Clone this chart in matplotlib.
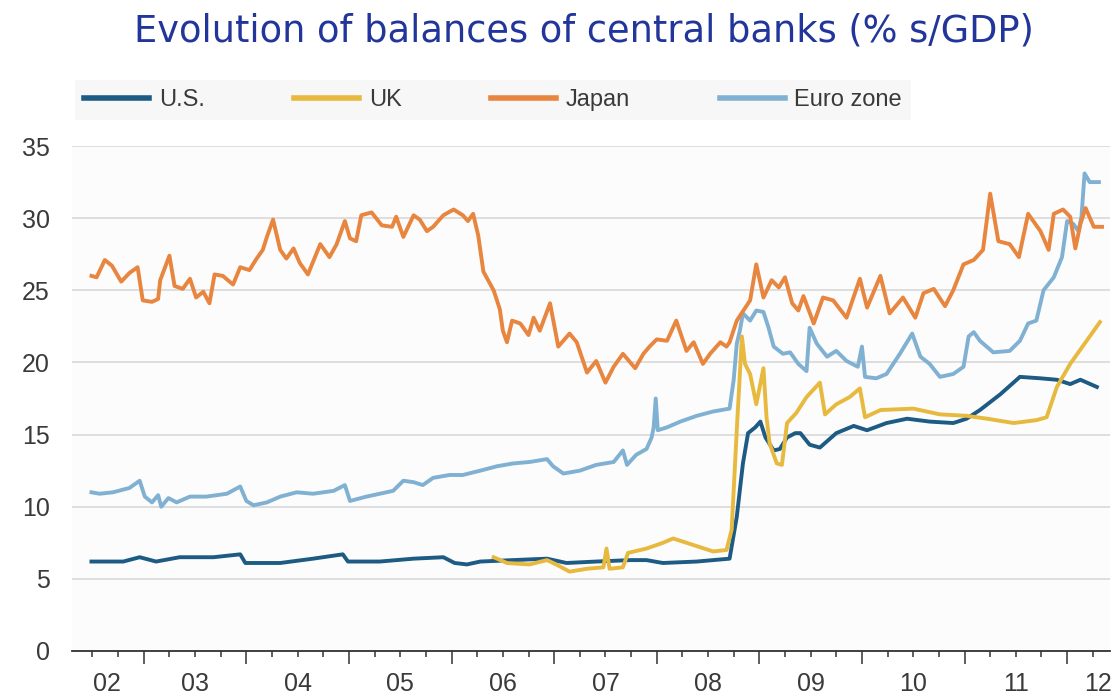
import numpy as np
import matplotlib
matplotlib.use('Agg')
from matplotlib import pyplot as plt

# balance sheets of central banks, % of GDP, by decimal year
us_x = [2002.49, 2002.80, 2002.96, 2003.12, 2003.35, 2003.68, 2003.94, 2003.99,
        2004.33, 2004.65, 2004.94, 2004.99, 2005.30, 2005.63, 2005.92, 2006.03,
        2006.15, 2006.28, 2006.60, 2006.93, 2007.12, 2007.41, 2007.74, 2007.90,
        2008.06, 2008.39, 2008.71, 2008.78, 2008.84, 2008.89, 2008.96, 2009.01,
        2009.06, 2009.14, 2009.20, 2009.27, 2009.35, 2009.40, 2009.49, 2009.59,
        2009.75, 2009.92, 2010.05, 2010.24, 2010.44, 2010.66, 2010.89, 2011.02,
        2011.15, 2011.35, 2011.54, 2011.74, 2011.90, 2012.03, 2012.13, 2012.29]
us_y = [6.2, 6.2, 6.5, 6.2, 6.5, 6.5, 6.7, 6.1,
        6.1, 6.4, 6.7, 6.2, 6.2, 6.4, 6.5, 6.1,
        6.0, 6.2, 6.3, 6.4, 6.1, 6.2, 6.3, 6.3,
        6.1, 6.2, 6.4, 9.3, 13.0, 15.1, 15.5, 15.9,
        14.8, 13.9, 14.0, 14.8, 15.1, 15.1, 14.3, 14.1,
        15.1, 15.6, 15.3, 15.8, 16.1, 15.9, 15.8, 16.1,
        16.7, 17.8, 19.0, 18.9, 18.8, 18.5, 18.8, 18.3]

uk_x = [2006.41, 2006.54, 2006.76, 2006.93, 2007.02, 2007.15, 2007.32, 2007.48,
        2007.51, 2007.54, 2007.67, 2007.72, 2007.90, 2008.06, 2008.16, 2008.29,
        2008.42, 2008.55, 2008.68, 2008.73, 2008.78, 2008.83, 2008.86, 2008.91,
        2008.97, 2009.04, 2009.07, 2009.10, 2009.17, 2009.22, 2009.27, 2009.36,
        2009.46, 2009.59, 2009.64, 2009.75, 2009.88, 2009.98, 2010.03, 2010.18,
        2010.50, 2010.76, 2011.02, 2011.22, 2011.48, 2011.70, 2011.80, 2011.90,
        2012.03, 2012.22, 2012.32]
uk_y = [6.5, 6.1, 6.0, 6.3, 6.0, 5.5, 5.7, 5.8,
        7.1, 5.7, 5.8, 6.8, 7.1, 7.5, 7.8, 7.5,
        7.2, 6.9, 7.0, 8.4, 15.3, 21.8, 19.9, 19.2,
        17.1, 19.6, 16.2, 14.4, 13.0, 12.9, 15.8, 16.5,
        17.6, 18.6, 16.4, 17.1, 17.6, 18.2, 16.2, 16.7,
        16.8, 16.4, 16.3, 16.1, 15.8, 16.0, 16.2, 18.3,
        19.9, 21.8, 22.8]

japan_x = [2002.49, 2002.54, 2002.62, 2002.69, 2002.78, 2002.86, 2002.94, 2002.99,
           2003.08, 2003.14, 2003.16, 2003.25, 2003.30, 2003.38, 2003.45, 2003.51,
           2003.58, 2003.64, 2003.69, 2003.77, 2003.87, 2003.94, 2004.03, 2004.10,
           2004.16, 2004.20, 2004.26, 2004.33, 2004.39, 2004.46, 2004.52, 2004.60,
           2004.72, 2004.81, 2004.88, 2004.96, 2005.01, 2005.07, 2005.12, 2005.22,
           2005.32, 2005.42, 2005.46, 2005.53, 2005.63, 2005.69, 2005.76, 2005.82,
           2005.92, 2006.02, 2006.11, 2006.16, 2006.21, 2006.26, 2006.31, 2006.41,
           2006.47, 2006.50, 2006.54, 2006.59, 2006.67, 2006.75, 2006.80, 2006.86,
           2006.96, 2007.04, 2007.15, 2007.22, 2007.32, 2007.41, 2007.50, 2007.58,
           2007.67, 2007.79, 2007.87, 2007.93, 2008.00, 2008.10, 2008.19, 2008.29,
           2008.36, 2008.45, 2008.52, 2008.62, 2008.68, 2008.71, 2008.78, 2008.91,
           2008.97, 2009.04, 2009.12, 2009.19, 2009.25, 2009.32, 2009.38, 2009.43,
           2009.53, 2009.62, 2009.72, 2009.85, 2009.98, 2010.05, 2010.18, 2010.27,
           2010.40, 2010.52, 2010.60, 2010.70, 2010.81, 2010.89, 2010.99, 2011.09,
           2011.18, 2011.25, 2011.33, 2011.44, 2011.53, 2011.62, 2011.74, 2011.82,
           2011.87, 2011.96, 2012.03, 2012.08, 2012.13, 2012.18, 2012.26, 2012.34]
japan_y = [26.0, 25.9, 27.1, 26.7, 25.6, 26.2, 26.6, 24.3,
           24.2, 24.4, 25.7, 27.4, 25.3, 25.1, 25.8, 24.5,
           24.9, 24.1, 26.1, 26.0, 25.4, 26.6, 26.4, 27.2,
           27.8, 28.7, 29.9, 27.8, 27.2, 27.9, 26.9, 26.1,
           28.2, 27.3, 28.2, 29.8, 28.6, 28.4, 30.2, 30.4,
           29.5, 29.4, 30.1, 28.7, 30.2, 29.9, 29.1, 29.4,
           30.2, 30.6, 30.2, 29.8, 30.3, 28.8, 26.3, 25.0,
           23.7, 22.2, 21.4, 22.9, 22.7, 21.9, 23.1, 22.2,
           24.1, 21.1, 22.0, 21.4, 19.3, 20.1, 18.6, 19.7,
           20.6, 19.6, 20.6, 21.1, 21.6, 21.5, 22.9, 20.8,
           21.4, 19.9, 20.6, 21.4, 21.1, 21.4, 22.9, 24.3,
           26.8, 24.5, 25.7, 25.2, 25.9, 24.1, 23.6, 24.6,
           22.7, 24.5, 24.3, 23.1, 25.8, 23.8, 26.0, 23.4,
           24.5, 23.1, 24.8, 25.1, 23.9, 25.0, 26.8, 27.1,
           27.8, 31.7, 28.4, 28.2, 27.3, 30.3, 29.1, 27.8,
           30.3, 30.6, 30.1, 27.9, 29.6, 30.7, 29.4, 29.4]

euro_x = [2002.49, 2002.57, 2002.70, 2002.86, 2002.96, 2003.01, 2003.08, 2003.14,
          2003.17, 2003.24, 2003.32, 2003.45, 2003.61, 2003.81, 2003.94, 2004.00,
          2004.07, 2004.20, 2004.33, 2004.49, 2004.65, 2004.85, 2004.96, 2005.01,
          2005.17, 2005.30, 2005.43, 2005.53, 2005.63, 2005.72, 2005.82, 2005.98,
          2006.11, 2006.28, 2006.44, 2006.60, 2006.76, 2006.93, 2006.99, 2007.09,
          2007.25, 2007.41, 2007.58, 2007.67, 2007.71, 2007.80, 2007.90, 2007.95,
          2007.97, 2007.99, 2008.01, 2008.10, 2008.23, 2008.39, 2008.55, 2008.71,
          2008.75, 2008.78, 2008.81, 2008.84, 2008.91, 2008.97, 2009.04, 2009.09,
          2009.14, 2009.23, 2009.30, 2009.38, 2009.46, 2009.49, 2009.56, 2009.66,
          2009.75, 2009.85, 2009.96, 2010.00, 2010.03, 2010.14, 2010.24, 2010.37,
          2010.49, 2010.57, 2010.66, 2010.76, 2010.89, 2010.99, 2011.04, 2011.09,
          2011.15, 2011.28, 2011.44, 2011.54, 2011.62, 2011.70, 2011.77, 2011.87,
          2011.95, 2012.00, 2012.06, 2012.11, 2012.14, 2012.17, 2012.22, 2012.31]
euro_y = [11.0, 10.9, 11.0, 11.3, 11.8, 10.7, 10.3, 10.8,
          10.0, 10.6, 10.3, 10.7, 10.7, 10.9, 11.4, 10.4,
          10.1, 10.3, 10.7, 11.0, 10.9, 11.1, 11.5, 10.4,
          10.7, 10.9, 11.1, 11.8, 11.7, 11.5, 12.0, 12.2,
          12.2, 12.5, 12.8, 13.0, 13.1, 13.3, 12.8, 12.3,
          12.5, 12.9, 13.1, 13.9, 12.9, 13.6, 14.0, 14.8,
          15.5, 17.5, 15.3, 15.5, 15.9, 16.3, 16.6, 16.8,
          18.8, 21.3, 22.2, 23.4, 22.9, 23.6, 23.5, 22.4,
          21.1, 20.6, 20.7, 19.9, 19.4, 22.4, 21.3, 20.4,
          20.8, 20.1, 19.7, 21.1, 19.0, 18.9, 19.2, 20.6,
          22.0, 20.4, 19.9, 19.0, 19.2, 19.7, 21.8, 22.1,
          21.5, 20.7, 20.8, 21.5, 22.7, 22.9, 25.0, 25.9,
          27.3, 29.8, 29.6, 29.1, 30.1, 33.1, 32.5, 32.5]

series = [
    ('U.S.', us_x, us_y, '#1d5b84'),
    ('UK', uk_x, uk_y, '#e8b93f'),
    ('Japan', japan_x, japan_y, '#e8853f'),
    ('Euro zone', euro_x, euro_y, '#80b1d3'),
]

year_labels = ['02', '03', '04', '05', '06', '07', '08', '09', '10', '11', '12']
label_pos = [2002.64, 2003.5, 2004.5, 2005.5, 2006.5, 2007.5,
             2008.5, 2009.5, 2010.5, 2011.5, 2012.30]

plt.rcParams['font.family'] = ['Liberation Sans', 'DejaVu Sans']
txt = '#3a3a3a'

fig = plt.figure(figsize=(11.14, 6.97), dpi=100)
ax = fig.add_axes([0.0646, 0.066, 0.932, 0.7245])
ax.set_facecolor('#fcfcfc')

# euro zone first so the others sit on top of it
for name, xs, ys, c in [series[3], series[2], series[0], series[1]]:
    ax.plot(xs, ys, color=c, lw=2.8, solid_joinstyle='round', zorder=3)

ax.set_xlim(2002.30, 2012.42)
ax.set_ylim(0, 35)
ax.set_yticks(np.arange(0, 36, 5))
ax.tick_params(axis='y', length=0, pad=16, labelsize=18, labelcolor=txt)
ax.grid(True, axis='y', color='#d8d8d8', lw=1.2, zorder=1)

ax.set_xticks(np.arange(2003, 2013), labels=[''] * 10)
quarters = [q for q in np.arange(2002.5, 2012.3, 0.25) if q % 1 != 0]
ax.set_xticks(quarters, minor=True)
ax.tick_params(axis='x', which='major', length=9.5, width=1.1, color='#333333')
ax.tick_params(axis='x', which='minor', length=4.5, width=1.1, color='#333333')
for lab, pos in zip(year_labels, label_pos):
    ax.text(pos, -0.042, lab, transform=ax.get_xaxis_transform(),
            ha='center', va='top', fontsize=18, color=txt)

for side in ['top', 'right', 'left']:
    ax.spines[side].set_visible(False)
ax.spines['bottom'].set_color('#333333')
ax.spines['bottom'].set_linewidth(1.3)

handles = [plt.Line2D([], [], color=c, lw=4) for _, _, _, c in series]
leg = fig.legend(handles, [s[0] for s in series], ncol=4, loc='center left',
                 bbox_to_anchor=(0.0673, 0.8565), fontsize=17, frameon=True,
                 handlelength=2.75, handletextpad=0.4, columnspacing=3.8,
                 borderpad=0.4, borderaxespad=0, fancybox=False)
leg.get_frame().set_facecolor('#f6f6f6')
leg.get_frame().set_edgecolor('none')
for t in leg.get_texts():
    t.set_color(txt)

fig.text(0.524, 0.955, 'Evolution of balances of central banks (% s/GDP)',
         ha='center', va='center', fontsize=26.5, color='#22359a',
         family='DejaVu Sans')

plt.savefig('out.png', dpi=100)
plt.close('all')
